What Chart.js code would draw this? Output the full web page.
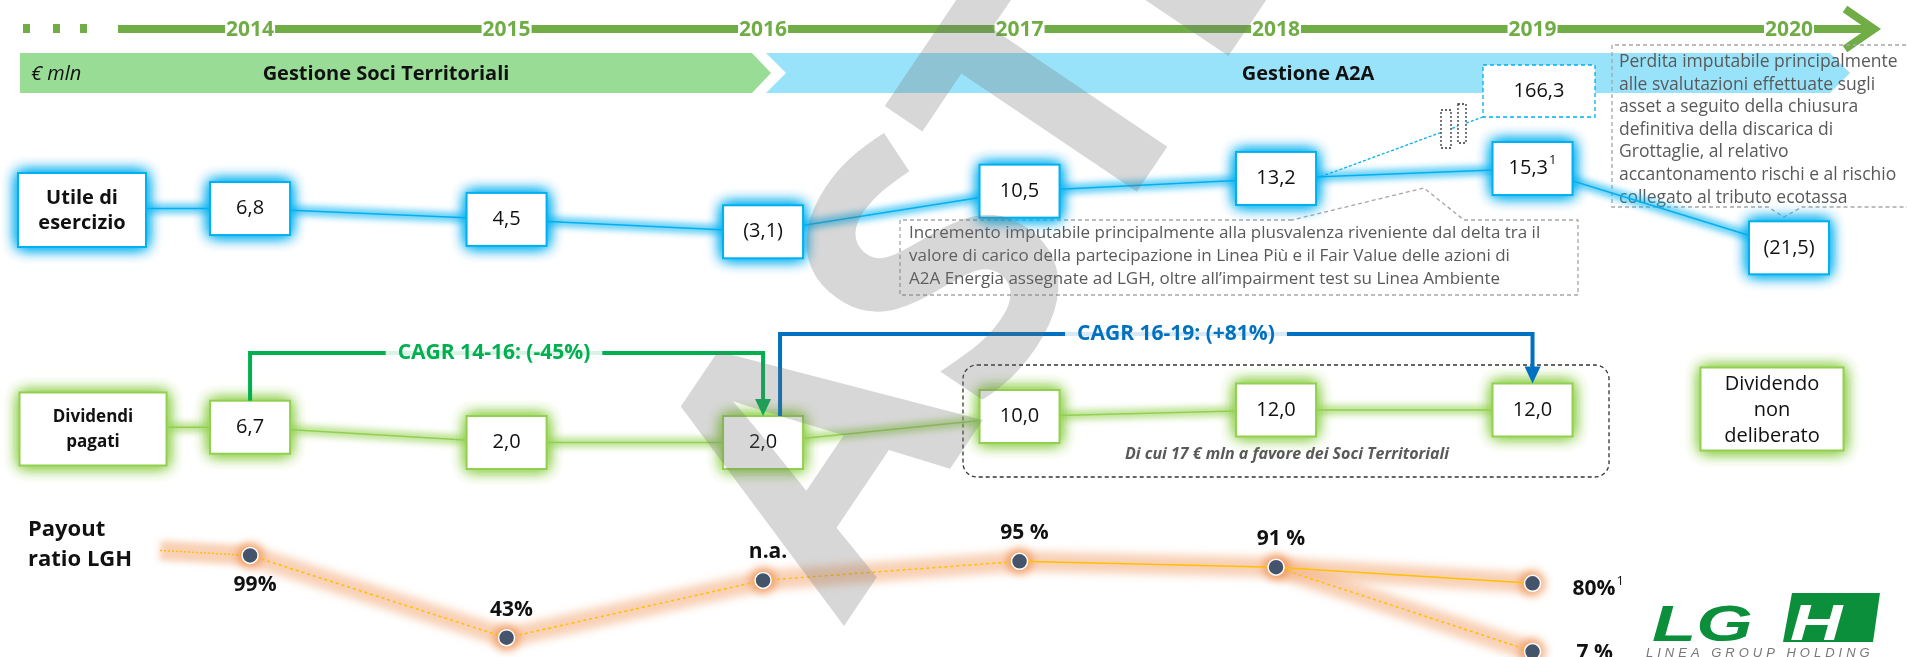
<!DOCTYPE html>
<html>
<head>
<meta charset="utf-8">
<script src="https://cdn.jsdelivr.net/npm/chart.js@4.4.1/dist/chart.umd.min.js"></script>
<style>
  html, body { margin: 0; padding: 0; background: #fff; overflow: hidden; }
  #wrap { width: 1907px; height: 657px; }
</style>
</head>
<body>
<div id="wrap"><canvas id="chart" width="1907" height="657"></canvas></div>
<script>
// ---- data (€ mln) ----
const years = [2014, 2015, 2016, 2017, 2018, 2019, 2020];
const utileValues = [6.8, 4.5, -3.1, 10.5, 13.2, 15.3, -21.5];
const utileNotes = ['', '', '', '', '', '1', ''];
const utileOffScaleValue = 166.3;          // shown in the dashed box, off the scale
const dividendYears = [2014, 2015, 2016, 2017, 2018, 2019];
const dividendValues = [6.7, 2.0, 2.0, 10.0, 12.0, 12.0];
const dividend2020Text = ['Dividendo', 'non', 'deliberato'];
const payoutYears = [2014, 2015, 2016, 2017, 2018, 2019];
const payoutValues = [99, 43, null, 95, 91, 80];
const payoutLabels = ['99%', '43%', 'n.a.', '95 %', '91 %', '80%'];
const payoutAltValue = 7;                  // second 2019 branch
const payoutNaMarker = 82;                 // height of the n.a. marker
const cagrLabels = ['CAGR 14-16: (-45%)', 'CAGR 16-19: (+81%)'];
const periodLabels = ['Gestione Soci Territoriali', 'Gestione A2A'];

const noteIncrease = [
  'Incremento imputabile principalmente alla plusvalenza riveniente dal delta tra il',
  'valore di carico della partecipazione in Linea Più e il Fair Value delle azioni di',
  'A2A Energia assegnate ad LGH, oltre all’impairment test su Linea Ambiente'
];
const noteLoss = [
  'Perdita imputabile principalmente',
  'alle svalutazioni effettuate sugli',
  'asset a seguito della chiusura',
  'definitiva della discarica di',
  'Grottaglie, al relativo',
  'accantonamento rischi e al rischio',
  'collegato al tributo ecotassa'
];
const noteDividends = 'Di cui 17 € mln a favore dei Soci Territoriali';

// linear scale that squeezes the part below a knee (the chart is schematic)
class BrokenScale extends Chart.LinearScale {
  getPixelForValue(value) {
    const knee = this.options.knee, squeeze = this.options.squeeze;
    if (value !== null && value < knee) value = knee + (value - knee) * squeeze;
    return super.getPixelForValue(value);
  }
}
BrokenScale.id = 'broken';
BrokenScale.defaults = {};
Chart.register(BrokenScale);

const FONT = '"Open Sans", "DejaVu Sans", sans-serif';
const BLUE = '#00B0F0', LIGHTGREEN = '#92D050';

const fmt = v => v < 0 ? '(' + (-v).toFixed(1).replace('.', ',') + ')' : v.toFixed(1).replace('.', ',');
const pts = (xs, ys) => xs.map((x, i) => ({ x: x, y: ys[i] }));
const payoutPlot = payoutValues.map(v => v === null ? payoutNaMarker : v);

function label(ctx, str, x, y, font, color, align) {
  ctx.font = font;
  ctx.fillStyle = color;
  ctx.textAlign = align || 'center';
  ctx.textBaseline = 'middle';
  ctx.fillText(str, x, y);
}

function poly(ctx, p) {
  ctx.beginPath();
  ctx.moveTo(p[0][0], p[0][1]);
  for (let i = 1; i < p.length; i++) ctx.lineTo(p[i][0], p[i][1]);
  ctx.closePath();
}

function glowBox(ctx, cx, cy, w, h, stroke, glow) {
  ctx.save();
  ctx.shadowColor = glow;
  ctx.shadowBlur = 14;
  ctx.fillStyle = '#fff';
  for (let k = 0; k < 3; k++) ctx.fillRect(cx - w / 2, cy - h / 2, w, h);
  ctx.restore();
  ctx.save();
  ctx.strokeStyle = stroke;
  ctx.lineWidth = 2;
  ctx.strokeRect(cx - w / 2, cy - h / 2, w, h);
  ctx.restore();
}

// text with an optional superscript note; align 'center' or 'left'
function valueText(ctx, str, note, x, y, font, color, align) {
  ctx.font = font;
  const w = ctx.measureText(str).width;
  ctx.font = '13px ' + FONT;
  const nw = note ? ctx.measureText(note).width + 1 : 0;
  const left = align === 'left' ? x : x - (w + nw) / 2;
  label(ctx, str, left, y, font, color, 'left');
  if (note) label(ctx, note, left + w + 1, y - 8, '13px ' + FONT, color, 'left');
}

function dashedPath(ctx, p, color, dash, close) {
  ctx.save();
  ctx.strokeStyle = color;
  ctx.lineWidth = 1.3;
  ctx.setLineDash(dash);
  ctx.beginPath();
  ctx.moveTo(p[0][0], p[0][1]);
  for (let i = 1; i < p.length; i++) ctx.lineTo(p[i][0], p[i][1]);
  if (close) ctx.closePath();
  ctx.stroke();
  ctx.restore();
}

function glowLine(ctx, x1, y1, x2, y2, color, glow, width, dash) {
  ctx.save();
  ctx.filter = 'blur(3px)';
  ctx.strokeStyle = glow;
  ctx.lineWidth = width;
  ctx.beginPath(); ctx.moveTo(x1, y1); ctx.lineTo(x2, y2); ctx.stroke();
  ctx.restore();
  ctx.save();
  ctx.strokeStyle = color;
  ctx.lineWidth = 1.5;
  if (dash) ctx.setLineDash(dash);
  ctx.beginPath(); ctx.moveTo(x1, y1); ctx.lineTo(x2, y2); ctx.stroke();
  ctx.restore();
}

function bracket(ctx, x1, y1, yTop, x2, y2, color, text, labelX) {
  ctx.save();
  ctx.font = 'bold 21px ' + FONT;
  const half = ctx.measureText(text).width / 2 + 12;
  ctx.strokeStyle = color;
  ctx.lineWidth = 4;
  ctx.globalAlpha = 0.15;
  ctx.beginPath(); ctx.moveTo(labelX - half, yTop); ctx.lineTo(labelX + half, yTop); ctx.stroke();
  ctx.globalAlpha = 1;
  ctx.beginPath(); ctx.moveTo(x1, y1); ctx.lineTo(x1, yTop); ctx.lineTo(labelX - half, yTop); ctx.stroke();
  ctx.beginPath(); ctx.moveTo(labelX + half, yTop); ctx.lineTo(x2, yTop); ctx.lineTo(x2, y2 - 14); ctx.stroke();
  ctx.fillStyle = color;
  ctx.beginPath(); ctx.moveTo(x2 - 8, y2 - 17); ctx.lineTo(x2 + 8, y2 - 17); ctx.lineTo(x2, y2); ctx.closePath(); ctx.fill();
  ctx.restore();
  label(ctx, text, labelX, yTop, 'bold 21px ' + FONT, color);
}

const infographic = {
  id: 'infographic',
  beforeDatasetsDraw(chart) {
    const ctx = chart.ctx, xs = chart.scales.x;
    // timeline
    const green = '#70AD47';
    ctx.save();
    ctx.fillStyle = green;
    [23, 53, 80].forEach(px => ctx.fillRect(px, 24, 7, 9));
    ctx.font = 'bold 21px ' + FONT;
    let from = 118;
    years.forEach(yr => {
      const px = xs.getPixelForValue(yr);
      const half = ctx.measureText(String(yr)).width / 2 + 1;
      ctx.fillRect(from, 25, px - half - from, 8);
      label(ctx, String(yr), px, 30, 'bold 21px ' + FONT, green);
      from = px + half;
    });
    ctx.fillRect(from, 25, 1868 - from, 8);
    ctx.strokeStyle = green;
    ctx.lineWidth = 8;
    ctx.beginPath(); ctx.moveTo(1845, 9); ctx.lineTo(1874, 29); ctx.lineTo(1845, 49); ctx.stroke();
    ctx.restore();

    // management periods
    ctx.save();
    ctx.fillStyle = '#98DC96';
    poly(ctx, [[20, 53], [752, 53], [771, 73], [752, 93], [20, 93]]); ctx.fill();
    ctx.fillStyle = '#99E3FA';
    poly(ctx, [[766, 53], [1830, 53], [1850, 73], [1830, 93], [766, 93], [786, 73]]); ctx.fill();
    ctx.restore();
    label(ctx, '€ mln', 31, 74, 'italic 20px ' + FONT, '#111', 'left');
    label(ctx, periodLabels[0], 386, 74, 'bold 20px ' + FONT, '#111');
    label(ctx, periodLabels[1], 1308, 74, 'bold 20px ' + FONT, '#111');

    // note boxes
    dashedPath(ctx, [[1292, 220], [900, 220], [900, 295], [1578, 295], [1578, 220], [1464, 220], [1424, 188], [1292, 220]], '#A6A6A6', [4, 3]);
    noteIncrease.forEach((t, i) => label(ctx, t, 909, 233 + i * 23, '17px ' + FONT, '#595959', 'left'));
    dashedPath(ctx, [[1920, 45], [1612, 45], [1612, 207], [1768, 207], [1784, 217], [1802, 207], [1920, 207]], '#A6A6A6', [4, 3]);
    noteLoss.forEach((t, i) => label(ctx, t, 1619, 62 + i * 22.6, '17.5px ' + FONT, '#595959', 'left'));

    // dashed group around 2017-2019 dividends
    ctx.save();
    ctx.strokeStyle = '#333';
    ctx.lineWidth = 1.3;
    ctx.setLineDash([4, 3]);
    ctx.beginPath();
    ctx.roundRect(963, 365, 646, 112, 14);
    ctx.stroke();
    ctx.restore();
    label(ctx, noteDividends, 1287, 454, 'italic bold 16px ' + FONT, '#595959');

    // lead-in lines from the row labels
    const u0 = chart.getDatasetMeta(1).data[0];
    glowLine(ctx, 146, u0.y, u0.x, u0.y, BLUE, 'rgba(0,176,240,0.6)', 10);
    const d0 = chart.getDatasetMeta(3).data[0];
    glowLine(ctx, 167, d0.y, d0.x, d0.y, LIGHTGREEN, 'rgba(146,208,80,0.6)', 10);
    const p0 = chart.getDatasetMeta(5).data[0];
    glowLine(ctx, 160, p0.y - 5, p0.x, p0.y, '#FFC000', 'rgba(244,177,131,0.6)', 20, [2, 2]);
  },
  beforeDatasetDraw(chart, args) {
    const ds = chart.data.datasets[args.index];
    if (ds.blur) {
      chart.ctx.save();
      chart.ctx.filter = 'blur(' + ds.blur + 'px)';
    }
  },
  afterDatasetDraw(chart, args) {
    if (chart.data.datasets[args.index].blur) chart.ctx.restore();
  },
  afterDatasetsDraw(chart) {
    const ctx = chart.ctx;
    const valueFont = '20px ' + FONT;

    // off-scale 2018 link and box
    const u = chart.getDatasetMeta(1).data;
    dashedPath(ctx, [[u[4].x + 40, u[4].y], [1483, 117]], BLUE, [3, 2]);
    ctx.save();
    ctx.fillStyle = '#fff';
    ctx.fillRect(1441, 110, 10, 38);
    ctx.fillRect(1458, 104, 8, 39);
    ctx.restore();
    dashedPath(ctx, [[1441, 110], [1451, 110], [1451, 148], [1441, 148]], '#333', [2, 2], true);
    dashedPath(ctx, [[1458, 104], [1466, 104], [1466, 143], [1458, 143]], '#333', [2, 2], true);
    ctx.save();
    ctx.fillStyle = '#fff';
    ctx.fillRect(1483, 65, 112, 52);
    ctx.restore();
    dashedPath(ctx, [[1483, 65], [1595, 65], [1595, 117], [1483, 117]], BLUE, [4, 3], true);
    label(ctx, fmt(utileOffScaleValue), 1539, 91, valueFont, '#111');

    // row labels
    glowBox(ctx, 82, 210, 128, 74, BLUE, 'rgba(0,176,240,0.9)');
    label(ctx, 'Utile di', 82, 198, 'bold 20px ' + FONT, '#111');
    label(ctx, 'esercizio', 82, 223, 'bold 20px ' + FONT, '#111');
    glowBox(ctx, 93, 429, 147, 73, LIGHTGREEN, 'rgba(146,208,80,0.9)');
    label(ctx, 'Dividendi', 93, 417, 'bold 17px ' + FONT, '#111');
    label(ctx, 'pagati', 93, 442, 'bold 17px ' + FONT, '#111');

    // value boxes
    u.forEach((pt, i) => {
      glowBox(ctx, pt.x, pt.y, 80, 53, BLUE, 'rgba(0,176,240,0.9)');
      valueText(ctx, fmt(utileValues[i]), utileNotes[i], pt.x, pt.y, valueFont, '#111');
    });
    const d = chart.getDatasetMeta(3).data;
    d.forEach((pt, i) => {
      glowBox(ctx, pt.x, pt.y, 80, 53, LIGHTGREEN, 'rgba(146,208,80,0.9)');
      valueText(ctx, fmt(dividendValues[i]), '', pt.x, pt.y, valueFont, '#111');
    });
    glowBox(ctx, 1772, 409, 143, 83, LIGHTGREEN, 'rgba(146,208,80,0.9)');
    dividend2020Text.forEach((t, i) => label(ctx, t, 1772, 384 + i * 26, valueFont, '#111'));

    // CAGR brackets
    bracket(ctx, d[0].x, d[0].y - 26.5, 353, d[2].x, d[2].y - 26.5, '#00B050', cagrLabels[0], 494);
    bracket(ctx, d[2].x + 17, d[2].y - 26.5, 334, d[5].x, d[5].y - 26.5, '#0070C0', cagrLabels[1], 1176);

    // payout labels
    label(ctx, 'Payout', 28, 530, 'bold 22px ' + FONT, '#111', 'left');
    label(ctx, 'ratio LGH', 28, 560, 'bold 22px ' + FONT, '#111', 'left');
    const p = chart.getDatasetMeta(5).data;
    const bold = 'bold 21px ' + FONT;
    p.forEach((pt, i) => {
      if (i === 0) label(ctx, payoutLabels[i], pt.x + 5, pt.y + 30, bold, '#111');
      else if (i < 5) label(ctx, payoutLabels[i], pt.x + 5, pt.y - 28, bold, '#111');
      else valueText(ctx, payoutLabels[i], '1', pt.x + 40, pt.y + 6, bold, '#111', 'left');
    });
    const alt = chart.getDatasetMeta(7).data[1];
    label(ctx, payoutAltValue + ' %', alt.x + 44, alt.y + 2, bold, '#111', 'left');
  },
  afterDraw(chart) {
    const ctx = chart.ctx;
    // LGH logo
    ctx.save();
    ctx.fillStyle = '#0B8F3A';
    ctx.font = 'italic bold 50px "Liberation Sans", sans-serif';
    ctx.textBaseline = 'alphabetic';
    ctx.textAlign = 'left';
    ctx.save();
    ctx.translate(1652, 641);
    ctx.scale(1.45, 1);
    ctx.fillText('LG', 0, 0);
    ctx.restore();
    poly(ctx, [[1792, 593], [1880, 593], [1873, 642], [1783, 642]]);
    ctx.fill();
    ctx.fillStyle = '#fff';
    ctx.save();
    ctx.translate(1790, 640);
    ctx.scale(1.45, 1);
    ctx.fillText('H', 0, 0);
    ctx.restore();
    ctx.fillStyle = '#777';
    ctx.font = 'italic 13px "Liberation Sans", sans-serif';
    ctx.letterSpacing = '4px';
    ctx.fillText('LINEA GROUP HOLDING', 1646, 657);
    ctx.restore();

    // watermark
    ctx.save();
    ctx.translate(844, 626);
    ctx.rotate(-56 * Math.PI / 180);
    ctx.font = 'bold 360px ' + FONT;
    ctx.fillStyle = 'rgba(110,110,110,0.28)';
    ctx.textAlign = 'left';
    ctx.textBaseline = 'alphabetic';
    ctx.fillText('ASTE', 0, 0);
    ctx.restore();
  }
};

const chart = new Chart(document.getElementById('chart'), {
  type: 'line',
  data: {
    datasets: [
      { data: pts(years, utileValues), yAxisID: 'yUtile', borderColor: 'rgba(0,176,240,0.6)', borderWidth: 10, pointRadius: 0, blur: 3, order: 2 },
      { data: pts(years, utileValues), yAxisID: 'yUtile', borderColor: BLUE, borderWidth: 1.5, pointRadius: 0, order: 1 },
      { data: pts(dividendYears, dividendValues), yAxisID: 'yDiv', borderColor: 'rgba(146,208,80,0.6)', borderWidth: 10, pointRadius: 0, blur: 3, order: 2 },
      { data: pts(dividendYears, dividendValues), yAxisID: 'yDiv', borderColor: LIGHTGREEN, borderWidth: 1.5, pointRadius: 0, order: 1 },
      { data: pts(payoutYears, payoutPlot), yAxisID: 'yPay', borderColor: 'rgba(244,177,131,0.6)', borderWidth: 20,
        pointRadius: 13, pointBackgroundColor: 'rgba(237,125,49,0.6)', pointBorderWidth: 0, blur: 4, order: 2 },
      { data: pts(payoutYears, payoutPlot), yAxisID: 'yPay', borderColor: '#FFC000', borderWidth: 1.5,
        segment: { borderDash: c => c.p0DataIndex < 3 ? [3, 3] : undefined },
        pointRadius: 8, pointBackgroundColor: '#44546A', pointBorderColor: '#fff', pointBorderWidth: 1.5, order: 0 },
      { data: [{ x: payoutYears[4], y: payoutValues[4] }, { x: payoutYears[5], y: payoutAltValue }], yAxisID: 'yPay',
        borderColor: 'rgba(244,177,131,0.6)', borderWidth: 20, pointRadius: [0, 13], pointBackgroundColor: 'rgba(237,125,49,0.6)',
        pointBorderWidth: 0, blur: 4, order: 2 },
      { data: [{ x: payoutYears[4], y: payoutValues[4] }, { x: payoutYears[5], y: payoutAltValue }], yAxisID: 'yPay',
        borderColor: '#FFC000', borderWidth: 1.5, borderDash: [3, 3], pointRadius: [0, 8],
        pointBackgroundColor: '#44546A', pointBorderColor: '#fff', pointBorderWidth: 1.5, order: 0 }
    ]
  },
  options: {
    responsive: false,
    animation: false,
    events: [],
    layout: { padding: 0, autoPadding: false },
    plugins: { legend: { display: false }, tooltip: { enabled: false } },
    scales: {
      x: { type: 'linear', display: false, bounds: 'data', min: 2013.025, max: 2020.46 },
      yUtile: { type: 'broken', display: false, bounds: 'data', knee: 3, squeeze: 0.185, min: -88.4, max: 51.08 },
      yDiv: { type: 'linear', display: false, bounds: 'data', min: -64, max: 138.15 },
      yPay: { type: 'broken', display: false, bounds: 'data', knee: 43, squeeze: 0.26, min: 29.9, max: 476.8 }
    }
  },
  plugins: [infographic]
});
</script>
</body>
</html>
